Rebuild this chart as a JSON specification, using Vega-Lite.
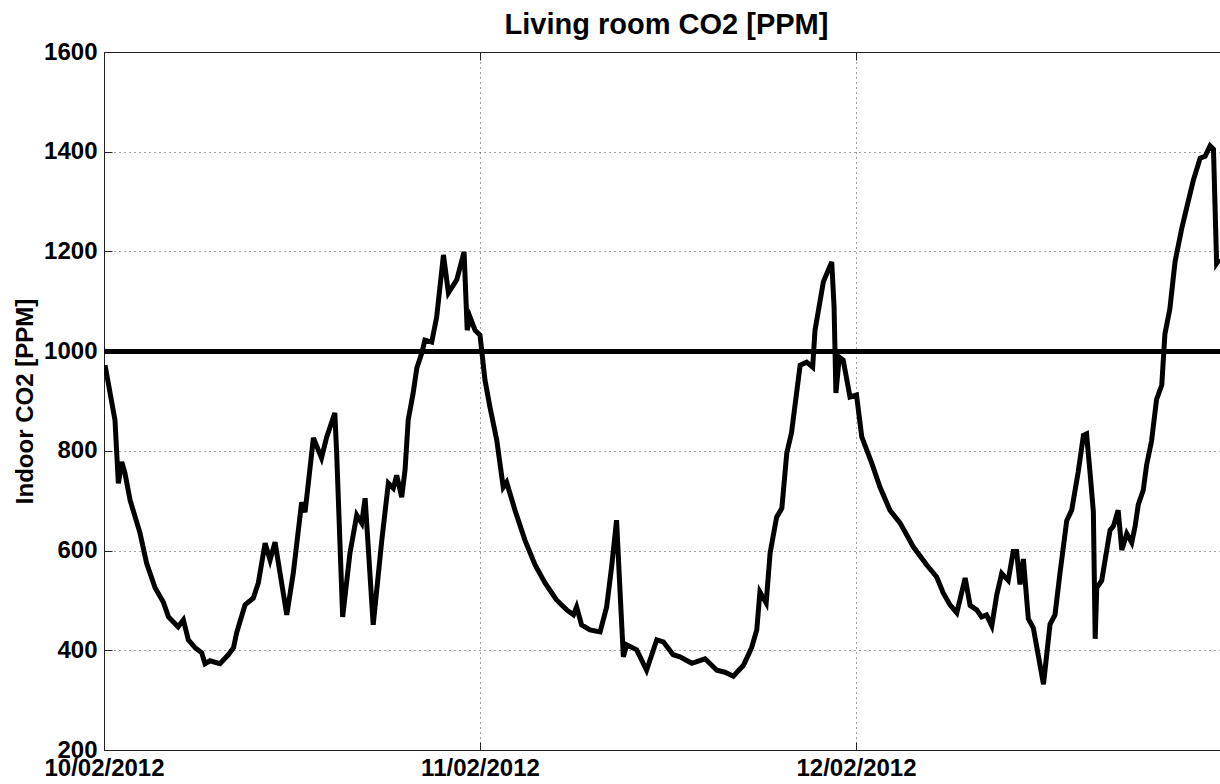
{
  "$schema": "https://vega.github.io/schema/vega-lite/v6.json",
  "width": 1116,
  "height": 698,
  "autosize": {"type": "none"},
  "padding": {"left": 104, "top": 52, "right": 0, "bottom": 34},
  "background": "white",
  "config": {
    "font": "Liberation Sans",
    "view": {"stroke": null},
    "axis": {
      "labelFont": "Liberation Sans",
      "labelFontSize": 24,
      "labelFontWeight": "bold",
      "labelColor": "black",
      "domainColor": "#222222",
      "domainWidth": 1,
      "tickColor": "#222222",
      "gridColor": "#444444",
      "gridDash": [1, 4],
      "gridWidth": 1,
      "gridOpacity": 1
    }
  },
  "data": {
    "values": [
      {"t": "2012-02-10T00:04", "co2": 972},
      {"t": "2012-02-10T00:42", "co2": 862},
      {"t": "2012-02-10T00:55", "co2": 735},
      {"t": "2012-02-10T01:08", "co2": 778},
      {"t": "2012-02-10T01:20", "co2": 756},
      {"t": "2012-02-10T01:40", "co2": 701},
      {"t": "2012-02-10T02:18", "co2": 635},
      {"t": "2012-02-10T02:43", "co2": 575},
      {"t": "2012-02-10T03:16", "co2": 525},
      {"t": "2012-02-10T03:47", "co2": 497},
      {"t": "2012-02-10T04:07", "co2": 467},
      {"t": "2012-02-10T04:44", "co2": 447},
      {"t": "2012-02-10T05:04", "co2": 461},
      {"t": "2012-02-10T05:23", "co2": 421},
      {"t": "2012-02-10T05:49", "co2": 405},
      {"t": "2012-02-10T06:14", "co2": 395},
      {"t": "2012-02-10T06:27", "co2": 373},
      {"t": "2012-02-10T06:46", "co2": 379},
      {"t": "2012-02-10T07:24", "co2": 373},
      {"t": "2012-02-10T07:56", "co2": 391},
      {"t": "2012-02-10T08:16", "co2": 405},
      {"t": "2012-02-10T08:28", "co2": 435},
      {"t": "2012-02-10T09:00", "co2": 491},
      {"t": "2012-02-10T09:32", "co2": 505},
      {"t": "2012-02-10T09:51", "co2": 535},
      {"t": "2012-02-10T10:17", "co2": 615},
      {"t": "2012-02-10T10:36", "co2": 581},
      {"t": "2012-02-10T10:55", "co2": 617},
      {"t": "2012-02-10T11:40", "co2": 471},
      {"t": "2012-02-10T12:05", "co2": 555},
      {"t": "2012-02-10T12:37", "co2": 697},
      {"t": "2012-02-10T12:50", "co2": 677},
      {"t": "2012-02-10T13:22", "co2": 826},
      {"t": "2012-02-10T13:53", "co2": 786},
      {"t": "2012-02-10T14:13", "co2": 828},
      {"t": "2012-02-10T14:44", "co2": 876},
      {"t": "2012-02-10T14:51", "co2": 796},
      {"t": "2012-02-10T15:14", "co2": 467},
      {"t": "2012-02-10T15:42", "co2": 595},
      {"t": "2012-02-10T16:08", "co2": 671},
      {"t": "2012-02-10T16:27", "co2": 655},
      {"t": "2012-02-10T16:40", "co2": 705},
      {"t": "2012-02-10T17:11", "co2": 451},
      {"t": "2012-02-10T17:44", "co2": 621},
      {"t": "2012-02-10T18:09", "co2": 735},
      {"t": "2012-02-10T18:28", "co2": 725},
      {"t": "2012-02-10T18:41", "co2": 751},
      {"t": "2012-02-10T19:00", "co2": 707},
      {"t": "2012-02-10T19:13", "co2": 762},
      {"t": "2012-02-10T19:25", "co2": 862},
      {"t": "2012-02-10T19:44", "co2": 916},
      {"t": "2012-02-10T19:58", "co2": 966},
      {"t": "2012-02-10T20:17", "co2": 996},
      {"t": "2012-02-10T20:29", "co2": 1022},
      {"t": "2012-02-10T20:55", "co2": 1018},
      {"t": "2012-02-10T21:14", "co2": 1068},
      {"t": "2012-02-10T21:40", "co2": 1193},
      {"t": "2012-02-10T21:59", "co2": 1117},
      {"t": "2012-02-10T22:31", "co2": 1143},
      {"t": "2012-02-10T22:59", "co2": 1199},
      {"t": "2012-02-10T23:11", "co2": 1042},
      {"t": "2012-02-10T23:22", "co2": 1068},
      {"t": "2012-02-10T23:41", "co2": 1042},
      {"t": "2012-02-11T00:00", "co2": 1032},
      {"t": "2012-02-11T00:19", "co2": 942},
      {"t": "2012-02-11T00:38", "co2": 888},
      {"t": "2012-02-11T01:04", "co2": 822},
      {"t": "2012-02-11T01:29", "co2": 727},
      {"t": "2012-02-11T01:42", "co2": 737},
      {"t": "2012-02-11T02:14", "co2": 681},
      {"t": "2012-02-11T02:52", "co2": 621},
      {"t": "2012-02-11T03:31", "co2": 571},
      {"t": "2012-02-11T04:09", "co2": 535},
      {"t": "2012-02-11T04:53", "co2": 501},
      {"t": "2012-02-11T05:32", "co2": 481},
      {"t": "2012-02-11T05:58", "co2": 471},
      {"t": "2012-02-11T06:10", "co2": 487},
      {"t": "2012-02-11T06:29", "co2": 451},
      {"t": "2012-02-11T07:01", "co2": 441},
      {"t": "2012-02-11T07:40", "co2": 437},
      {"t": "2012-02-11T08:05", "co2": 487},
      {"t": "2012-02-11T08:24", "co2": 567},
      {"t": "2012-02-11T08:43", "co2": 661},
      {"t": "2012-02-11T08:56", "co2": 521},
      {"t": "2012-02-11T09:09", "co2": 387},
      {"t": "2012-02-11T09:22", "co2": 411},
      {"t": "2012-02-11T10:00", "co2": 401},
      {"t": "2012-02-11T10:38", "co2": 360},
      {"t": "2012-02-11T11:17", "co2": 421},
      {"t": "2012-02-11T11:42", "co2": 417},
      {"t": "2012-02-11T12:20", "co2": 391},
      {"t": "2012-02-11T12:46", "co2": 387},
      {"t": "2012-02-11T13:31", "co2": 374},
      {"t": "2012-02-11T14:22", "co2": 383},
      {"t": "2012-02-11T15:07", "co2": 360},
      {"t": "2012-02-11T15:38", "co2": 356},
      {"t": "2012-02-11T16:10", "co2": 348},
      {"t": "2012-02-11T16:49", "co2": 370},
      {"t": "2012-02-11T17:20", "co2": 405},
      {"t": "2012-02-11T17:40", "co2": 441},
      {"t": "2012-02-11T17:52", "co2": 517},
      {"t": "2012-02-11T18:16", "co2": 495},
      {"t": "2012-02-11T18:31", "co2": 595},
      {"t": "2012-02-11T18:56", "co2": 667},
      {"t": "2012-02-11T19:16", "co2": 685},
      {"t": "2012-02-11T19:35", "co2": 796},
      {"t": "2012-02-11T19:53", "co2": 836},
      {"t": "2012-02-11T20:26", "co2": 972},
      {"t": "2012-02-11T20:51", "co2": 978},
      {"t": "2012-02-11T21:14", "co2": 968},
      {"t": "2012-02-11T21:23", "co2": 1042},
      {"t": "2012-02-11T21:55", "co2": 1139},
      {"t": "2012-02-11T22:27", "co2": 1179},
      {"t": "2012-02-11T22:36", "co2": 1089},
      {"t": "2012-02-11T22:43", "co2": 916},
      {"t": "2012-02-11T22:56", "co2": 988},
      {"t": "2012-02-11T23:11", "co2": 982},
      {"t": "2012-02-11T23:37", "co2": 908},
      {"t": "2012-02-12T00:02", "co2": 912},
      {"t": "2012-02-12T00:22", "co2": 828},
      {"t": "2012-02-12T01:00", "co2": 776},
      {"t": "2012-02-12T01:32", "co2": 727},
      {"t": "2012-02-12T02:10", "co2": 681},
      {"t": "2012-02-12T02:49", "co2": 655},
      {"t": "2012-02-12T03:40", "co2": 607},
      {"t": "2012-02-12T04:31", "co2": 571},
      {"t": "2012-02-12T05:09", "co2": 547},
      {"t": "2012-02-12T05:34", "co2": 515},
      {"t": "2012-02-12T06:00", "co2": 491},
      {"t": "2012-02-12T06:26", "co2": 475},
      {"t": "2012-02-12T06:58", "co2": 545},
      {"t": "2012-02-12T07:17", "co2": 490},
      {"t": "2012-02-12T07:42", "co2": 481},
      {"t": "2012-02-12T08:01", "co2": 467},
      {"t": "2012-02-12T08:20", "co2": 471},
      {"t": "2012-02-12T08:40", "co2": 449},
      {"t": "2012-02-12T08:59", "co2": 511},
      {"t": "2012-02-12T09:18", "co2": 554},
      {"t": "2012-02-12T09:43", "co2": 540},
      {"t": "2012-02-12T10:02", "co2": 598},
      {"t": "2012-02-12T10:15", "co2": 598},
      {"t": "2012-02-12T10:28", "co2": 532},
      {"t": "2012-02-12T10:41", "co2": 583},
      {"t": "2012-02-12T11:00", "co2": 463},
      {"t": "2012-02-12T11:19", "co2": 445},
      {"t": "2012-02-12T11:58", "co2": 332},
      {"t": "2012-02-12T12:23", "co2": 452},
      {"t": "2012-02-12T12:42", "co2": 471},
      {"t": "2012-02-12T13:01", "co2": 554},
      {"t": "2012-02-12T13:27", "co2": 660},
      {"t": "2012-02-12T13:46", "co2": 681},
      {"t": "2012-02-12T14:11", "co2": 758},
      {"t": "2012-02-12T14:31", "co2": 831},
      {"t": "2012-02-12T14:43", "co2": 834},
      {"t": "2012-02-12T14:56", "co2": 758},
      {"t": "2012-02-12T15:09", "co2": 678},
      {"t": "2012-02-12T15:16", "co2": 423},
      {"t": "2012-02-12T15:22", "co2": 525},
      {"t": "2012-02-12T15:41", "co2": 540},
      {"t": "2012-02-12T16:13", "co2": 641},
      {"t": "2012-02-12T16:26", "co2": 649},
      {"t": "2012-02-12T16:44", "co2": 681},
      {"t": "2012-02-12T16:58", "co2": 601},
      {"t": "2012-02-12T17:17", "co2": 634},
      {"t": "2012-02-12T17:36", "co2": 616},
      {"t": "2012-02-12T17:49", "co2": 649},
      {"t": "2012-02-12T18:01", "co2": 692},
      {"t": "2012-02-12T18:20", "co2": 721},
      {"t": "2012-02-12T18:33", "co2": 772},
      {"t": "2012-02-12T18:52", "co2": 820},
      {"t": "2012-02-12T19:11", "co2": 903},
      {"t": "2012-02-12T19:31", "co2": 932},
      {"t": "2012-02-12T19:43", "co2": 1034},
      {"t": "2012-02-12T20:02", "co2": 1085},
      {"t": "2012-02-12T20:22", "co2": 1180},
      {"t": "2012-02-12T20:47", "co2": 1245},
      {"t": "2012-02-12T21:07", "co2": 1289},
      {"t": "2012-02-12T21:32", "co2": 1343},
      {"t": "2012-02-12T21:58", "co2": 1387},
      {"t": "2012-02-12T22:17", "co2": 1391},
      {"t": "2012-02-12T22:36", "co2": 1412},
      {"t": "2012-02-12T22:49", "co2": 1405},
      {"t": "2012-02-12T23:01", "co2": 1176},
      {"t": "2012-02-12T23:13", "co2": 1185}
    ]
  },
  "resolve": {"axis": {"x": "independent"}},
  "layer": [
    {
      "mark": {"type": "point", "opacity": 0},
      "encoding": {
        "x": {
          "field": "t",
          "type": "temporal",
          "axis": {
            "orient": "top",
            "values": [
              {"year": 2012, "month": "feb", "date": 10},
              {"year": 2012, "month": "feb", "date": 11},
              {"year": 2012, "month": "feb", "date": 12}
            ],
            "labels": false,
            "grid": false,
            "ticks": true,
            "tickSize": -8,
            "domain": true,
            "title": "Living room CO2 [PPM]",
            "titleFont": "Liberation Sans",
            "titleFontSize": 29,
            "titleFontWeight": "bold",
            "titleColor": "black",
            "titleAlign": "center",
            "titleBaseline": "alphabetic",
            "titleX": 562,
            "titleY": -19
          }
        },
        "y": {"field": "co2", "type": "quantitative"}
      }
    },
    {
      "mark": {"type": "line", "color": "black", "strokeWidth": 5, "strokeJoin": "miter", "clip": true},
      "encoding": {
        "x": {
          "field": "t",
          "type": "temporal",
          "scale": {
            "domain": [
              {"year": 2012, "month": "feb", "date": 10},
              {"year": 2012, "month": "feb", "date": 12, "hours": 23, "minutes": 14}
            ],
            "nice": false
          },
          "axis": {
            "orient": "bottom",
            "title": null,
            "values": [
              {"year": 2012, "month": "feb", "date": 10},
              {"year": 2012, "month": "feb", "date": 11},
              {"year": 2012, "month": "feb", "date": 12}
            ],
            "format": "%d/%m/%Y",
            "labelFlush": false,
            "labelOverlap": false,
            "labelPadding": 14,
            "ticks": true,
            "tickSize": -8,
            "grid": true
          }
        },
        "y": {
          "field": "co2",
          "type": "quantitative",
          "scale": {"domain": [200, 1600], "nice": false, "zero": false},
          "axis": {
            "title": "Indoor CO2 [PPM]",
            "titleFont": "Liberation Sans",
            "titleFontSize": 24,
            "titleFontWeight": "bold",
            "titleColor": "black",
            "titleAngle": -90,
            "titleAlign": "center",
            "titleBaseline": "alphabetic",
            "titleX": -72,
            "titleY": 349,
            "values": [200, 400, 600, 800, 1000, 1200, 1400, 1600],
            "format": "d",
            "labelFlush": false,
            "labelOverlap": false,
            "labelPadding": 15,
            "ticks": true,
            "tickSize": -8,
            "grid": true
          }
        }
      }
    },
    {
      "mark": {"type": "rule", "color": "black", "strokeWidth": 4},
      "encoding": {"y": {"datum": 1000, "type": "quantitative"}}
    }
  ]
}
